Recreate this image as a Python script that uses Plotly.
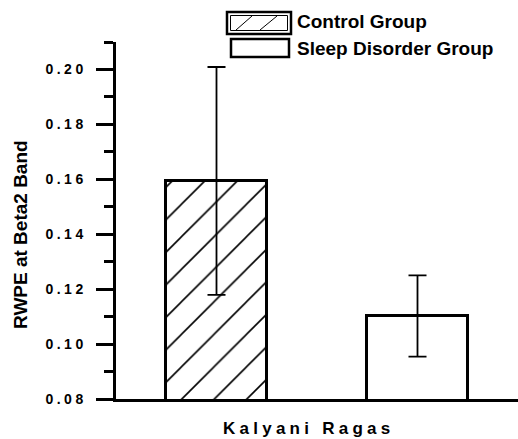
import plotly.graph_objects as go

# ---- data ----
groups = ["Control Group", "Sleep Disorder Group"]
positions = [1, 2]
means = [0.1594, 0.1102]
errors = [0.0415, 0.0148]
y_ticks = [0.08, 0.10, 0.12, 0.14, 0.16, 0.18, 0.20]
y_minor = [0.09, 0.11, 0.13, 0.15, 0.17, 0.19, 0.21]
x_title = "Kalyani Ragas"
y_title = "RWPE at Beta2 Band"

W, H = 518, 439
ML, MR, MT, MB = 116, 0, 42, 40
PW, PH = W - ML - MR, H - MT - MB
FONT = "Liberation Sans, Arial, sans-serif"
SP = "\u2005"


def px(x):
    return (x - ML) / PW


def py(y):
    return (H - MB - y) / PH


def spaced(s, sep):
    return sep.join(list(s))


fig = go.Figure()
patterns = ["/", ""]
for i in range(2):
    fig.add_trace(go.Bar(
        x=[positions[i]], y=[means[i]], width=0.5, name=groups[i],
        marker=dict(color="white", line=dict(color="black", width=3),
                    pattern=dict(shape=patterns[i], fgcolor="black", bgcolor="white",
                                 fgopacity=1, size=23, solidity=0.07)),
        error_y=dict(type="data", array=[errors[i]], visible=True,
                     color="black", thickness=1.8, width=9),
        showlegend=False,
    ))

fig.update_layout(
    width=W, height=H,
    margin=dict(l=ML, r=MR, t=MT, b=MB),
    plot_bgcolor="white", paper_bgcolor="white",
    font=dict(family=FONT, color="black"),
    bargap=0,
    xaxis=dict(range=[0.5, 2.5], showline=True, linewidth=3, linecolor="black",
               showticklabels=False, ticks="", showgrid=False, zeroline=False),
    yaxis=dict(range=[0.08, 0.21], showline=True, linewidth=3, linecolor="black",
               tickvals=y_ticks,
               ticktext=[spaced(f"{v:.2f}", SP) for v in y_ticks],
               ticks="outside", ticklen=17, tickwidth=2.5, tickcolor="black",
               tickfont=dict(size=14, family=FONT, weight="bold"),
               ticklabelstandoff=10,
               minor=dict(tickvals=y_minor, ticks="outside", ticklen=9,
                          tickwidth=2.5, tickcolor="black", showgrid=False),
               showgrid=False, zeroline=False),
)

# axis titles as annotations
fig.add_annotation(x=px(306), y=py(428), xref="paper", yref="paper",
                   text=spaced(x_title, "\u2005"), showarrow=False,
                   font=dict(size=17, family=FONT, weight="bold"),
                   xanchor="center", yanchor="middle")
fig.add_annotation(x=px(20), y=py(235), xref="paper", yref="paper",
                   text=y_title, showarrow=False, textangle=-90,
                   font=dict(size=19, family=FONT, weight="bold"),
                   xanchor="center", yanchor="middle")

# custom legend
shapes = []
shapes.append(dict(type="rect", xref="paper", yref="paper",
                   x0=px(227), x1=px(291), y0=py(34), y1=py(12),
                   line=dict(color="black", width=2.5), fillcolor="white"))
shapes.append(dict(type="rect", xref="paper", yref="paper",
                   x0=px(230.5), x1=px(287.5), y0=py(30.5), y1=py(15.5),
                   line=dict(color="black", width=1)))
for bx, tx in [(236, 252), (260, 277)]:
    shapes.append(dict(type="line", xref="paper", yref="paper",
                       x0=px(bx), y0=py(30), x1=px(tx), y1=py(16),
                       line=dict(color="black", width=1)))
shapes.append(dict(type="rect", xref="paper", yref="paper",
                   x0=px(231), x1=px(289), y0=py(57), y1=py(39),
                   line=dict(color="black", width=2.5), fillcolor="white"))
fig.update_layout(shapes=shapes)

for txt, yc in [(groups[0], 22), (groups[1], 48)]:
    fig.add_annotation(x=px(295), y=py(yc), xref="paper", yref="paper",
                       text=txt, showarrow=False, xanchor="left", yanchor="middle",
                       font=dict(size=19, family=FONT, weight="bold"))

fig.write_html("out.html", config={"displayModeBar": False},
               post_script="document.body.style.margin='0';")
